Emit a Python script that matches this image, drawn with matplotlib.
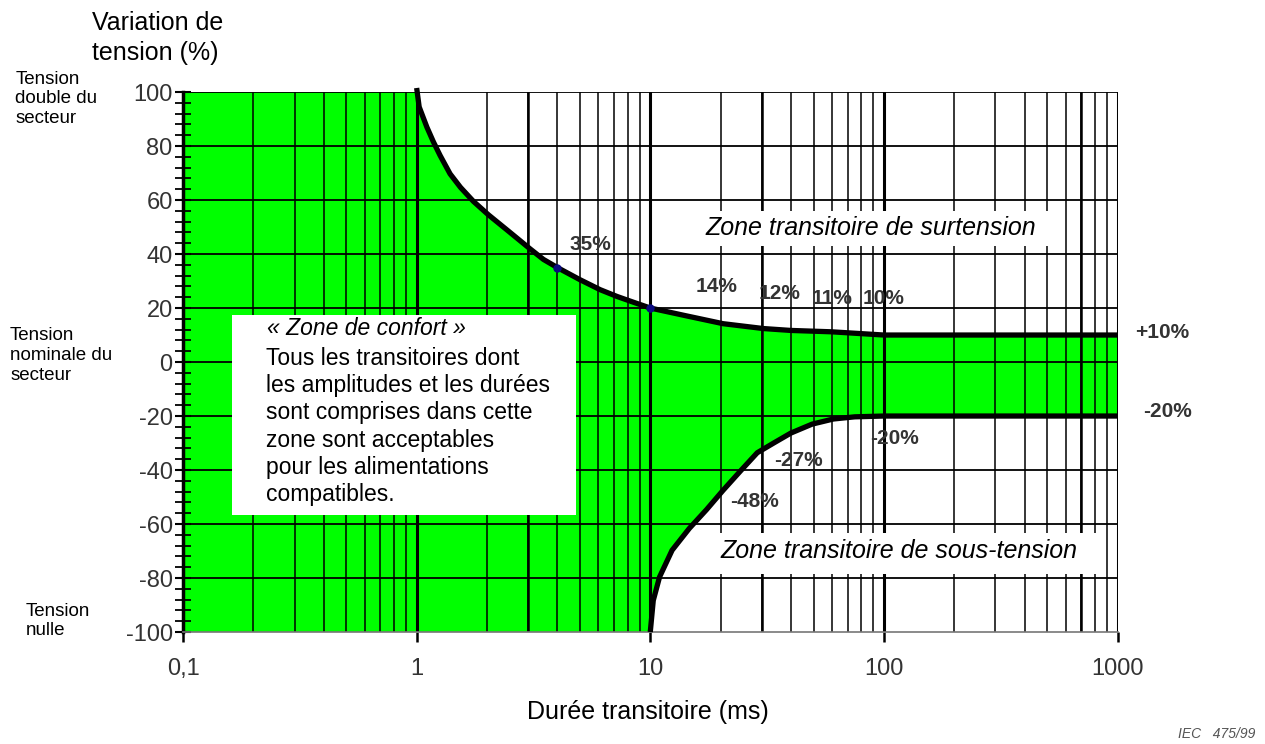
import numpy as np
import matplotlib.pyplot as plt
from matplotlib.ticker import FixedLocator, MultipleLocator, NullFormatter

plt.rcParams['font.family'] = ['Liberation Sans', 'DejaVu Sans']
plt.rcParams['axes.unicode_minus'] = False

# upper limit (over-voltage)
up_x = [1, 1.025, 1.106, 1.18, 1.26, 1.39, 1.54, 1.75, 2.03, 2.43, 3.06, 3.49, 4,
        5, 6.1, 7.2, 8.5, 10, 14.1, 20.5, 30.5, 40, 59.5, 100, 1000]
up_y = [101.5, 94.5, 87, 81.5, 76.5, 69.7, 64.7, 59.5, 54.5, 49, 41.9, 38, 35,
        30.5, 26.8, 24.3, 22.1, 20, 17.2, 14.2, 12.4, 11.7, 11.2, 10, 10]
# lower limit (under-voltage)
lo_x = [10, 10.3, 10.96, 12.4, 14.7, 17.4, 20.5, 24.3, 28.7, 33.9, 40, 49.3,
        60.8, 75, 100, 1000]
lo_y = [-100, -88.3, -79.6, -69.7, -61.6, -54.7, -47.5, -40.4, -33.6, -29.9,
        -26.3, -23, -21.1, -20.3, -20, -20]

x_ticks = [0.1, 1, 10, 100, 1000]
x_ticklabels = ['0,1', '1', '10', '100', '1000']
y_ticks = [100, 80, 60, 40, 20, 0, -20, -40, -60, -80, -100]

# point labels: text, x, y
pt_labels = [('35%', 4.5, 43.5), ('14%', 15.6, 28), ('12%', 29, 25.5),
             ('11%', 49, 23.5), ('10%', 81, 23.5), ('+10%', 1190, 11),
             ('-20%', 1290, -18.5), ('-20%', 87, -28.5), ('-27%', 34, -36.5),
             ('-48%', 22, -51.5)]

fig = plt.figure(figsize=(12.65, 7.44), dpi=100)
ax = fig.add_axes([0.1447, 0.1505, 0.7387, 0.7258])
ax.set_xscale('log')
ax.set_xlim(0.1, 1000)
ax.set_ylim(-100, 100)

# green comfort zone
poly_x = [0.1] + up_x + lo_x[::-1] + [0.1]
poly_y = [100] + [min(v, 100) for v in up_y] + lo_y[::-1] + [-100]
ax.fill(poly_x, poly_y, color='#00ff00', lw=0, zorder=1)

# grid
ax.xaxis.set_major_locator(FixedLocator(x_ticks))
minor = [d * m for d in [0.1, 1, 10, 100] for m in range(2, 10)]
ax.xaxis.set_minor_locator(FixedLocator(minor))
ax.xaxis.set_minor_formatter(NullFormatter())
ax.set_xticklabels(x_ticklabels)
for v in minor:
    ax.axvline(v, color='black', lw=1.1, zorder=2)
for v in [3, 30, 700]:
    ax.axvline(v, color='black', lw=1.8, zorder=2)
for v in x_ticks[1:]:
    ax.axvline(v, color='black', lw=2.2, zorder=2)
for v in y_ticks[:-1]:
    ax.axhline(v, color='black', lw=1.3, zorder=2)

# limit curves
ax.plot(up_x, up_y, color='black', lw=3.8, solid_capstyle='butt',
        solid_joinstyle='round', zorder=5, clip_on=False)
ax.plot(lo_x, lo_y, color='black', lw=3.8, solid_capstyle='butt',
        solid_joinstyle='round', zorder=5, clip_on=False)
ax.plot([4, 10], [35, 20], 'o', color='#0a0a80', ms=5, zorder=6)

for txt, x, y in pt_labels:
    ax.text(x, y, txt, fontsize=15, fontweight='bold', color='#333333',
            ha='left', va='center', zorder=7, clip_on=False)

# text boxes
ax.fill([0.162, 4.82, 4.82, 0.162], [17.5, 17.5, -56.7, -56.7], color='white', lw=0, zorder=3)
ax.text(0.229, 12.3, '« Zone de confort »', fontsize=16.5, style='italic',
        ha='left', va='center', zorder=4)
ax.text(0.227, -23.9, 'Tous les transitoires dont\nles amplitudes et les durées\n'
        'sont comprises dans cette\nzone sont acceptables\npour les alimentations\ncompatibles.',
        fontsize=16.5, ha='left', va='center', linespacing=1.235, zorder=4)

ax.fill([16.4, 570, 570, 16.4], [56, 56, 42.9, 42.9], color='white', lw=0, zorder=3)
ax.text(17.2, 49.6, 'Zone transitoire de surtension', fontsize=18, style='italic',
        ha='left', va='center', zorder=4)
ax.fill([19, 845, 845, 19], [-63.4, -63.4, -78.4, -78.4], color='white', lw=0, zorder=3)
ax.text(19.9, -70.1, 'Zone transitoire de sous-tension', fontsize=18, style='italic',
        ha='left', va='center', zorder=4)

# axes styling
ax.yaxis.set_major_locator(FixedLocator(y_ticks))
ax.yaxis.set_minor_locator(MultipleLocator(4))
ax.tick_params(axis='y', which='major', direction='inout', length=11, width=1.5,
               labelsize=17, colors='black', labelcolor='#333333', pad=2)
ax.tick_params(axis='y', which='minor', direction='inout', length=11, width=1.3)
ax.tick_params(axis='x', which='major', direction='out', length=7, width=1.8,
               labelsize=17, labelcolor='#333333', pad=12)
ax.tick_params(axis='x', which='minor', length=0)
for s in ['top', 'right']:
    ax.spines[s].set_visible(False)
ax.spines['left'].set_linewidth(2.5)
ax.spines['bottom'].set_color('#777777')
ax.spines['bottom'].set_linewidth(1.2)

fig.text(0.073, 0.985, 'Variation de\ntension (%)', fontsize=18, ha='left', va='top',
         linespacing=1.3)
fig.text(0.512, 0.043, 'Durée transitoire (ms)', fontsize=18, ha='center', va='center')
fig.text(0.992, 0.004, 'IEC   475/99', fontsize=10, style='italic', color='#555555',
         ha='right', va='bottom')

fig.text(0.012, 0.905, 'Tension\ndouble du\nsecteur', fontsize=13.5, ha='left', va='top',
         linespacing=1.2)
fig.text(0.008, 0.56, 'Tension\nnominale du\nsecteur', fontsize=13.5, ha='left', va='top',
         linespacing=1.2)
fig.text(0.02, 0.19, 'Tension\nnulle', fontsize=13.5, ha='left', va='top', linespacing=1.2)

fig.savefig('out.png', dpi=100)
